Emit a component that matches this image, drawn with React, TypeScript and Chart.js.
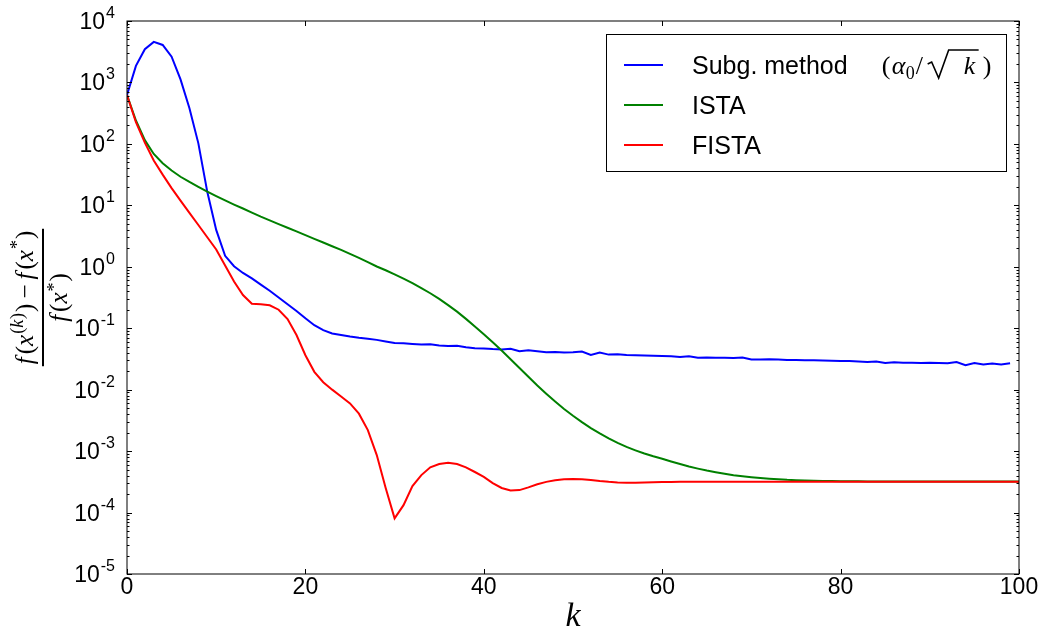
import React, { useEffect, useRef } from "react";
import { Chart, registerables } from "chart.js";

Chart.register(...registerables);

// ---- data ----
const xTickValues = [0, 20, 40, 60, 80, 100];
const yExponents = [4, 3, 2, 1, 0, -1, -2, -3, -4, -5];

const seriesLabels = ["Subg. method", "ISTA", "FISTA"];
const seriesColors = ["#0000ff", "#008000", "#ff0000"];

// Subgradient method, k = 0..99
const subgradient = [
  625, 1862, 3467, 4571, 4074, 2630, 1122, 380, 102, 16.6,
  3.98, 1.51, 1.02, 0.794, 0.646, 0.513, 0.407, 0.316, 0.245, 0.191,
  0.145, 0.112, 0.0933, 0.0822, 0.0776, 0.0733, 0.07, 0.0676, 0.0646, 0.061,
  0.0575, 0.0569, 0.0556, 0.0543, 0.055, 0.0525, 0.0513, 0.0519, 0.049, 0.0473,
  0.0468, 0.0457, 0.0452, 0.0462, 0.0422, 0.0437, 0.0422, 0.0407, 0.0412, 0.0403,
  0.0407, 0.0417, 0.0367, 0.0403, 0.0372, 0.0376, 0.0367, 0.0363, 0.0359, 0.0355,
  0.0353, 0.0351, 0.0339, 0.0351, 0.0331, 0.0335, 0.0331, 0.0331, 0.0327, 0.0335,
  0.0309, 0.0309, 0.0313, 0.0309, 0.0305, 0.0305, 0.0302, 0.0302, 0.0299, 0.0295,
  0.0292, 0.0292, 0.0288, 0.0282, 0.0288, 0.0272, 0.0279, 0.0275, 0.0275, 0.0272,
  0.0275, 0.0272, 0.0269, 0.0282, 0.0251, 0.0272, 0.0257, 0.0266, 0.0257, 0.0269,
];

// ISTA, k = 0..100
const ista = [
  625, 240, 115, 68.5, 48.5, 36.8, 29.2, 24.0, 19.95, 16.7,
  14.1, 12.0, 10.3, 8.87, 7.62, 6.56, 5.7, 4.95, 4.32, 3.76,
  3.27, 2.85, 2.48, 2.16, 1.88, 1.62, 1.4, 1.19, 1.01, 0.877,
  0.753, 0.641, 0.541, 0.451, 0.371, 0.3, 0.238, 0.186, 0.142, 0.107,
  0.0796, 0.059, 0.0433, 0.0313, 0.0225, 0.0162, 0.0117, 0.00861, 0.00641, 0.00486,
  0.00376, 0.00296, 0.00237, 0.00194, 0.00161, 0.00136, 0.00117, 0.00103, 0.000914, 0.000824,
  0.000752, 0.000678, 0.000615, 0.000562, 0.000519, 0.000483, 0.000453, 0.000428, 0.000406, 0.000389,
  0.000375, 0.000364, 0.000355, 0.000348, 0.000341, 0.000337, 0.000333, 0.00033, 0.000327, 0.000325,
  0.000324, 0.000323, 0.000322, 0.000321, 0.000321, 0.00032, 0.00032, 0.00032, 0.00032, 0.00032,
  0.00032, 0.000319, 0.000319, 0.000319, 0.000319, 0.000319, 0.000319, 0.000319, 0.000319, 0.000319,
  0.000319,
];

// FISTA, k = 0..100
const fista = [
  625, 225, 105, 53.7, 31.6, 19.1, 11.9, 7.53, 4.79, 3.02,
  1.91, 1.05, 0.575, 0.347, 0.251, 0.245, 0.236, 0.2, 0.141, 0.0776,
  0.0363, 0.0195, 0.0132, 0.01, 0.00776, 0.00598, 0.00407, 0.0022, 0.000863, 0.000251,
  0.0000805, 0.000132, 0.00027, 0.000407, 0.000545, 0.000617, 0.000647, 0.000617, 0.000545, 0.000457,
  0.00038, 0.000302, 0.000251, 0.000229, 0.000232, 0.000257, 0.000288, 0.000316, 0.000335, 0.000347,
  0.000351, 0.000348, 0.000339, 0.000326, 0.000316, 0.000309, 0.000305, 0.000305, 0.000308, 0.00031,
  0.000313, 0.000315, 0.000316, 0.000317, 0.000318, 0.000318, 0.000318, 0.000318, 0.000318, 0.000318,
  0.000318, 0.000318, 0.000318, 0.000318, 0.000318, 0.000318, 0.000318, 0.000318, 0.000318, 0.000318,
  0.000318, 0.000318, 0.000318, 0.000318, 0.000318, 0.000318, 0.000318, 0.000318, 0.000318, 0.000318,
  0.000318, 0.000318, 0.000318, 0.000318, 0.000318, 0.000318, 0.000318, 0.000318, 0.000318, 0.000318,
  0.000318,
];

const SANS = '"Liberation Sans", Arial, sans-serif';
const SERIF = '"Liberation Serif", "Times New Roman", serif';

type Part = { t: string; font: string; dy?: number; sp?: number };

function partsWidth(ctx: CanvasRenderingContext2D, parts: Part[]) {
  let w = 0;
  for (const p of parts) {
    ctx.font = p.font;
    w += ctx.measureText(p.t).width + (p.sp || 0);
  }
  return w;
}

function drawParts(ctx: CanvasRenderingContext2D, parts: Part[], x: number, baseline: number) {
  ctx.textAlign = "left";
  ctx.textBaseline = "alphabetic";
  for (const p of parts) {
    ctx.font = p.font;
    ctx.fillText(p.t, x, baseline + (p.dy || 0));
    x += ctx.measureText(p.t).width + (p.sp || 0);
  }
  return x;
}

const decorPlugin = {
  id: "decor",
  afterDatasetsDraw(chart: any) {
    const { ctx, chartArea: a, scales } = chart;
    const x = scales.x;
    const y = scales.y;
    ctx.save();

    // frame
    ctx.strokeStyle = "#000";
    ctx.lineWidth = 1;
    ctx.strokeRect(a.left, a.top, a.right - a.left, a.bottom - a.top);

    // y ticks (inward, both sides)
    ctx.beginPath();
    for (const t of y.ticks) {
      const v = t.value;
      const e = Math.round(Math.log10(v));
      const major = Math.abs(v / Math.pow(10, e) - 1) < 1e-6;
      const len = major ? 5 : 2.5;
      const py = Math.round(y.getPixelForValue(v)) + 0.5;
      ctx.moveTo(a.left, py);
      ctx.lineTo(a.left + len, py);
      ctx.moveTo(a.right, py);
      ctx.lineTo(a.right - len, py);
    }
    // x ticks (inward, top and bottom)
    for (const t of x.ticks) {
      const px = Math.round(x.getPixelForValue(t.value)) + 0.5;
      ctx.moveTo(px, a.bottom);
      ctx.lineTo(px, a.bottom - 5);
      ctx.moveTo(px, a.top);
      ctx.lineTo(px, a.top + 5);
    }
    ctx.stroke();

    // y tick labels: 10^e
    ctx.fillStyle = "#000";
    for (const e of yExponents) {
      const py = y.getPixelForValue(Math.pow(10, e));
      const right = a.left - 12;
      const sup = String(e);
      ctx.font = `16px ${SANS}`;
      const sw = ctx.measureText(sup).width;
      ctx.textAlign = "left";
      ctx.textBaseline = "alphabetic";
      ctx.fillText(sup, right - sw, py - 3);
      ctx.font = `23px ${SANS}`;
      ctx.textAlign = "right";
      ctx.fillText("10", right - sw - 1, py + 8);
    }

    // x axis title: k
    ctx.font = `italic 34px ${SERIF}`;
    ctx.textAlign = "center";
    ctx.textBaseline = "alphabetic";
    ctx.fillText("k", (a.left + a.right) / 2, 626);

    // y axis title: fraction, rotated
    const it = `italic 25px ${SERIF}`;
    const up = `25px ${SERIF}`;
    const sIt = `italic 18px ${SERIF}`;
    const sUp = `18px ${SERIF}`;
    const num: Part[] = [
      { t: "f", font: it, sp: 3 },
      { t: "(", font: up },
      { t: "x", font: it, sp: 1 },
      { t: "(", font: sUp, dy: -10 },
      { t: "k", font: sIt, dy: -10, sp: 1 },
      { t: ")", font: sUp, dy: -10, sp: 1 },
      { t: ")", font: up, sp: 5 },
      { t: "\u2212", font: up, sp: 5 },
      { t: "f", font: it, sp: 3 },
      { t: "(", font: up },
      { t: "x", font: it, sp: 1 },
      { t: "*", font: sUp, dy: -10, sp: 1 },
      { t: ")", font: up },
    ];
    const den: Part[] = [
      { t: "f", font: it, sp: 3 },
      { t: "(", font: up },
      { t: "x", font: it, sp: 1 },
      { t: "*", font: sUp, dy: -7, sp: 1 },
      { t: ")", font: up },
    ];
    ctx.save();
    ctx.translate(43, (a.top + a.bottom) / 2);
    ctx.rotate(-Math.PI / 2);
    const nw = partsWidth(ctx, num);
    const dw = partsWidth(ctx, den);
    const bw = Math.max(nw, dw) + 4;
    ctx.fillRect(-bw / 2, -1, bw, 2);
    drawParts(ctx, num, -nw / 2, -10);
    drawParts(ctx, den, -dw / 2, 24);
    ctx.restore();

    // legend
    const lw = 400;
    const lh = 137;
    const lx = Math.round(a.right - 13 - lw);
    const ly = Math.round(a.top + 13);
    ctx.fillStyle = "#fff";
    ctx.fillRect(lx, ly, lw, lh);
    ctx.strokeStyle = "#000";
    ctx.lineWidth = 1;
    ctx.strokeRect(lx + 0.5, ly + 0.5, lw, lh);
    seriesLabels.forEach((label, i) => {
      const cy = ly + 31 + i * 40;
      ctx.strokeStyle = seriesColors[i];
      ctx.lineWidth = 2;
      ctx.beginPath();
      ctx.moveTo(lx + 18, cy);
      ctx.lineTo(lx + 57, cy);
      ctx.stroke();
      ctx.fillStyle = "#000";
      ctx.font = `25px ${SANS}`;
      ctx.textAlign = "left";
      ctx.textBaseline = "alphabetic";
      const tx = lx + 86;
      const base = cy + 9;
      ctx.fillText(label, tx, base);
      if (i === 0) {
        const w = ctx.measureText(label).width;
        const mx = tx + w + 34;
        const mUp = `26px ${SERIF}`;
        const mIt = `italic 26px ${SERIF}`;
        ctx.font = mUp;
        ctx.fillText("(", mx, base);
        ctx.font = mIt;
        ctx.fillText("\u03b1", mx + 10, base);
        ctx.font = `18px ${SERIF}`;
        ctx.fillText("0", mx + 24, base + 5);
        ctx.font = mUp;
        ctx.fillText("/", mx + 34, base);
        // radical sign
        ctx.strokeStyle = "#000";
        ctx.lineWidth = 1.6;
        ctx.beginPath();
        ctx.moveTo(mx + 46, base - 10);
        ctx.lineTo(mx + 50, base - 12);
        ctx.lineTo(mx + 57, base + 4);
        ctx.lineTo(mx + 67, base - 24);
        ctx.lineTo(mx + 97, base - 24);
        ctx.stroke();
        ctx.font = mIt;
        ctx.fillText("k", mx + 82, base);
        ctx.font = mUp;
        ctx.fillText(")", mx + 101, base);
      }
    });

    ctx.restore();
  },
};

export default function App() {
  const canvasRef = useRef<HTMLCanvasElement | null>(null);

  useEffect(() => {
    const canvas = canvasRef.current;
    if (!canvas) return;
    const mk = (arr: number[]) => arr.map((v, i) => ({ x: i, y: v }));
    const seriesData = [subgradient, ista, fista];
    const chart = new Chart(canvas, {
      type: "line",
      data: {
        datasets: seriesData.map((d, i) => ({
          label: seriesLabels[i],
          data: mk(d),
          borderColor: seriesColors[i],
          backgroundColor: seriesColors[i],
          borderWidth: 2,
          pointRadius: 0,
          fill: false,
          tension: 0,
          order: 3 - i,
        })),
      },
      options: {
        animation: false,
        responsive: false,
        devicePixelRatio: 1,
        layout: { padding: { top: 21, right: 25, left: 0, bottom: 0 } },
        plugins: {
          legend: { display: false },
          tooltip: { enabled: false },
        },
        scales: {
          x: {
            type: "linear",
            min: 0,
            max: 100,
            afterBuildTicks: (s: any) => {
              s.ticks = xTickValues.map((v) => ({ value: v }));
            },
            ticks: {
              color: "#000",
              font: { family: "Liberation Sans", size: 23 },
              padding: 0,
              maxRotation: 0,
              autoSkip: false,
            },
            grid: { display: false, drawTicks: false },
            border: { display: false },
            afterFit: (s: any) => {
              s.height = 56;
            },
          },
          y: {
            type: "logarithmic",
            min: 1e-5,
            max: 1e4,
            afterBuildTicks: (s: any) => {
              const t: { value: number }[] = [];
              for (let e = -5; e <= 3; e++) {
                for (let m = 1; m <= 9; m++) t.push({ value: m * Math.pow(10, e) });
              }
              t.push({ value: 1e4 });
              s.ticks = t;
            },
            ticks: { display: false, autoSkip: false },
            grid: { display: false, drawTicks: false },
            border: { display: false },
            afterFit: (s: any) => {
              s.width = 127;
            },
          },
        },
      } as any,
      plugins: [decorPlugin],
    });
    return () => chart.destroy();
  }, []);

  return (
    <div style={{ position: "absolute", left: 0, top: 0, width: 1044, height: 630, background: "#fff" }}>
      <canvas ref={canvasRef} width={1044} height={630} style={{ display: "block" }} />
    </div>
  );
}
